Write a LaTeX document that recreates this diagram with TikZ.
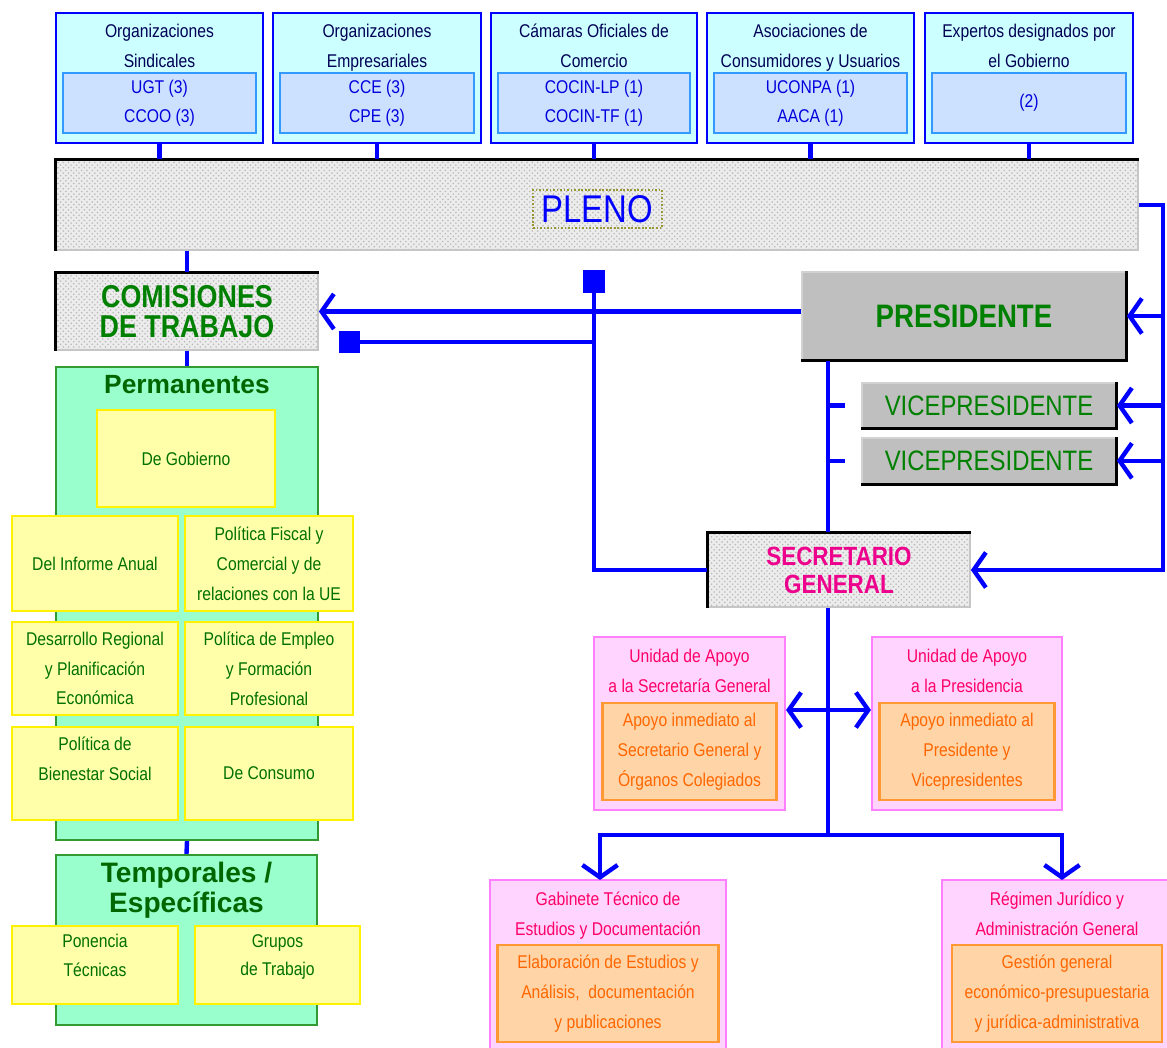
\documentclass[tikz,border=0pt]{standalone}
\usepackage{fontspec}
\setmainfont{Liberation Sans}
\newfontfamily\narrowfont[FakeStretch=0.85]{Liberation Sans}
\usetikzlibrary{arrows.meta,positioning,patterns}
\usepackage{xcolor}

\definecolor{cyanfill}{HTML}{CCFFFF}
\definecolor{bluefill}{HTML}{CCE0FF}
\definecolor{blueline}{HTML}{3399FF}
\definecolor{navytext}{HTML}{000055}
\definecolor{bluetext}{HTML}{0000DD}
\definecolor{plenoline}{HTML}{999933}
\definecolor{comverde}{HTML}{008000}
\definecolor{titverde}{HTML}{006600}
\definecolor{greentext}{HTML}{007000}
\definecolor{mintfill}{HTML}{99FFCC}
\definecolor{mintline}{HTML}{339933}
\definecolor{yellowfill}{HTML}{FFFFAA}
\definecolor{pinkfill}{HTML}{FFD5FF}
\definecolor{pinkline}{HTML}{FF80FF}
\definecolor{pinktext}{HTML}{FF0066}
\definecolor{orangefill}{HTML}{FFD5A8}
\definecolor{orangeline}{HTML}{FF9933}
\definecolor{orangetext}{HTML}{FF6600}

\tikzset{
    boxsize/.style 2 args={minimum width=#1*0.02cm, minimum height=#2*0.02cm},
    smalltext/.style={font=\narrowfont\fontsize{10.5}{17}\selectfont, align=center},
    titulo/.style={smalltext, inner sep=0pt},
    organo/.style={rectangle, draw=blue, line width=1.2pt, fill=cyanfill, inner sep=0pt},
    miembros/.style={rectangle, draw=blueline, line width=1pt, fill=bluefill, inner sep=0pt, smalltext, text=bluetext},
    tramado/.style={rectangle, inner sep=0pt, draw=gray!45, line width=1pt, preaction={fill=gray!15}, pattern=crosshatch dots, pattern color=gray!55},
    cargo/.style={rectangle, inner sep=0pt, draw=gray!35, line width=1pt, fill=gray!50},
    grupo/.style={rectangle, inner sep=0pt, draw=mintline, line width=1.2pt, fill=mintfill},
    grupotitulo/.style={inner sep=0pt, text=titverde, font=\bfseries\fontsize{15}{17}\selectfont, align=center},
    comision/.style={rectangle, inner sep=0pt, draw=yellow, line width=1.2pt, fill=yellowfill, smalltext, text=greentext},
    unidad/.style={rectangle, inner sep=0pt, draw=pinkline, line width=1.2pt, fill=pinkfill},
    funcion/.style={rectangle, inner sep=0pt, draw=orangeline, line width=1.2pt, fill=orangefill, smalltext, text=orangetext},
    conn/.style={draw=blue, line width=2.5pt},
    filo/.style={draw=black, line width=1.6pt}
}

\begin{document}
\begin{tikzpicture}[x=0.02cm, y=-0.02cm, >={Straight Barb[length=7pt, width=20pt]}]
    \useasboundingbox (0,0) rectangle (1167,1048);

    % organizaciones del pleno
    \node (sind) [organo, boxsize={207}{130}] at (159.5,78) {};
    \node (emp) [organo, boxsize={208}{130}] at (377,78) {};
    \node (cam) [organo, boxsize={206}{130}] at (594,78) {};
    \node (cons) [organo, boxsize={207}{130}] at (810.5,78) {};
    \node (exp) [organo, boxsize={208}{130}] at (1029,78) {};

    \node (sindt) [titulo, text=navytext, below=0.24cm of sind.north] {Organizaciones\\Sindicales};
    \node (empt) [titulo, text=navytext, below=0.24cm of emp.north] {Organizaciones\\Empresariales};
    \node (camt) [titulo, text=navytext, below=0.24cm of cam.north] {Cámaras Oficiales de\\Comercio};
    \node (consti) [titulo, text=navytext, below=0.24cm of cons.north] {Asociaciones de\\Consumidores y Usuarios};
    \node (expt) [titulo, text=navytext, below=0.24cm of exp.north] {Expertos designados por\\el Gobierno};

    \node (sindm) [miembros, boxsize={193}{60}, above=0.2cm of sind.south] {UGT (3)\\CCOO (3)};
    \node (empm) [miembros, boxsize={194}{60}, above=0.2cm of emp.south] {CCE (3)\\CPE (3)};
    \node (camm) [miembros, boxsize={192}{60}, above=0.2cm of cam.south] {COCIN-LP (1)\\COCIN-TF (1)};
    \node (consm) [miembros, boxsize={193}{60}, above=0.2cm of cons.south] {UCONPA (1)\\AACA (1)};
    \node (expm) [miembros, boxsize={194}{60}, above=0.2cm of exp.south] {(2)};

    % pleno
    \node (pleno) [tramado, boxsize={1082}{90}] at (597,205) {};
    \node (plenol) [draw=plenoline, densely dotted, line width=1pt, inner sep=0pt, boxsize={129}{38}, text=blue, font=\narrowfont\fontsize{22}{22}\selectfont] at (597.5,209) {PLENO};

    % comisiones
    \node (com) [tramado, boxsize={262}{77}, text=comverde, font=\narrowfont\bfseries\fontsize{18}{17}\selectfont, align=center] at (187,311.5) {COMISIONES\\DE TRABAJO};

    \node (perm) [grupo, boxsize={262}{473}] at (187,603.5) {};
    \node (permt) [grupotitulo, below=0.18cm of perm.north] {Permanentes};
    \node (gob) [comision, boxsize={178}{97}] at (186,458.5) {De Gobierno};
    \node (inf) [comision, boxsize={166}{95}] at (95,563.5) {Del Informe Anual};
    \node (fis) [comision, boxsize={168}{95}] at (269,563.5) {Política Fiscal y\\Comercial y de\\relaciones con la UE};
    \node (desreg) [comision, boxsize={166}{93}] at (95,668.5) {Desarrollo Regional\\y Planificación\\Económica};
    \node (empleo) [comision, boxsize={168}{93}] at (269,668.5) {Política de Empleo\\y Formación\\Profesional};
    \node (bien) [comision, boxsize={166}{93}] at (95,773.5) {Política de\\Bienestar Social\\\mbox{}};
    \node (consumo) [comision, boxsize={168}{93}] at (269,773.5) {De Consumo};

    \node (temp) [grupo, boxsize={261}{170}] at (186.5,940) {};
    \node (tempt) [grupotitulo, font=\bfseries\fontsize{16}{17}\selectfont, below=0.16cm of temp.north] {Temporales /\\Específicas};
    \node (pon) [comision, boxsize={166}{78}, font=\narrowfont\fontsize{10.5}{16}\selectfont] at (95,965) {Ponencia\\Técnicas\\[-5pt]\mbox{}};
    \node (grup) [comision, boxsize={165}{78}, font=\narrowfont\fontsize{10.5}{16}\selectfont] at (277.5,965) {Grupos\\de Trabajo\\[-5pt]\mbox{}};

    % presidencia y secretaria
    \node (pres) [cargo, boxsize={324}{88}, text=comverde, font=\narrowfont\bfseries\fontsize{18.5}{18.5}\selectfont] at (964,316) {PRESIDENTE};
    \node (vp1) [cargo, boxsize={254}{45}, text=comverde, font=\narrowfont\fontsize{16}{16}\selectfont] at (989,405.5) {VICEPRESIDENTE};
    \node (vp2) [cargo, boxsize={254}{46}, text=comverde, font=\narrowfont\fontsize{16}{16}\selectfont, below=0.16cm of vp1] {VICEPRESIDENTE};
    \node (sec) [tramado, boxsize={262}{74}, text=magenta, font=\narrowfont\bfseries\fontsize{15}{16}\selectfont, align=center] at (839,570) {SECRETARIO\\GENERAL};

    \foreach \n in {pleno,com,sec}
        \draw[filo] (\n.south west) |- (\n.north east);
    \foreach \n in {pres,vp1,vp2}
        \draw[filo] (\n.south west) -| (\n.north east);

    % unidades
    \node (usg) [unidad, boxsize={191}{173}] at (689.5,723.5) {};
    \node (usgt) [titulo, text=pinktext, below=0.25cm of usg.north] {Unidad de Apoyo\\a la Secretaría General};
    \node (usgf) [funcion, boxsize={174}{97}, above=0.2cm of usg.south] {Apoyo inmediato al\\Secretario General y\\Órganos Colegiados};
    \node (upr) [unidad, boxsize={190}{173}] at (967,723.5) {};
    \node (uprt) [titulo, text=pinktext, below=0.25cm of upr.north] {Unidad de Apoyo\\a la Presidencia};
    \node (uprf) [funcion, boxsize={175}{97}, above=0.2cm of upr.south] {Apoyo inmediato al\\Presidente y\\Vicepresidentes};
    \node (gab) [unidad, boxsize={236}{172}] at (608,966) {};
    \node (gabt) [titulo, text=pinktext, below=0.25cm of gab.north] {Gabinete Técnico de\\Estudios y Documentación};
    \node (gabf) [funcion, boxsize={221}{97}, above=0.2cm of gab.south] {Elaboración de Estudios y\\Análisis,~ documentación\\y publicaciones};
    \node (jur) [unidad, boxsize={230}{172}] at (1057,966) {};
    \node (jurt) [titulo, text=pinktext, below=0.25cm of jur.north] {Régimen Jurídico y\\Administración General};
    \node (jurf) [funcion, boxsize={210}{97}, above=0.2cm of jur.south] {Gestión general\\económico-presupuestaria\\y jurídica-administrativa};

    \coordinate (bus) at (1163,210);
    \coordinate (spine) at (828,360);
    \coordinate (pltap) at (594,270);
    \coordinate (tap) at (594,342);
    \coordinate (comtap) at (339,342);
    \coordinate (mid) at (828,710);
    \coordinate (fork) at (828,835);
    \coordinate (gabin) at (600,880);
    \coordinate (jurin) at (1062,880);

    % lineas
    \draw[conn] (sind.south) -- (sind.south |- pleno.north);
    \draw[conn] (emp.south) -- (emp.south |- pleno.north);
    \draw[conn] (cam.south) -- (cam.south |- pleno.north);
    \draw[conn] (cons.south) -- (cons.south |- pleno.north);
    \draw[conn] (exp.south) -- (exp.south |- pleno.north);
    \draw[conn] (com.north |- pleno.south) -- (com.north);
    \draw[conn] (com.south) -- (perm.north);
    \draw[conn] (perm.south) -- (temp.north);

    \draw[conn,->] (pleno.east) -| (bus |- sec.east) -- (sec.east);
    \draw[conn,->] (bus |- pres.east) -- (pres.east);
    \draw[conn,->] (bus |- vp1.east) -- (vp1.east);
    \draw[conn,->] (bus |- vp2.east) -- (vp2.east);

    \draw[conn,->] (pres.west |- com.east) -- (com.east);
    \draw[conn,-{Square[length=13pt, width=13pt]}] (sec.west) -| (pltap);
    \draw[conn,-{Square[length=12pt, width=12pt]}] (tap) -- (comtap);

    \draw[conn] (spine |- pres.south) -- (spine |- sec.north);
    \draw[conn] (spine |- vp1.west) -- ++(17,0);
    \draw[conn] (spine |- vp2.west) -- ++(17,0);
    \draw[conn] (spine |- sec.south) -- (fork);
    \draw[conn,<->] (usg.east |- mid) -- (upr.west |- mid);
    \draw[conn,->] (fork) -| (gabin);
    \draw[conn,->] (fork) -| (jurin);
\end{tikzpicture}
\end{document}
